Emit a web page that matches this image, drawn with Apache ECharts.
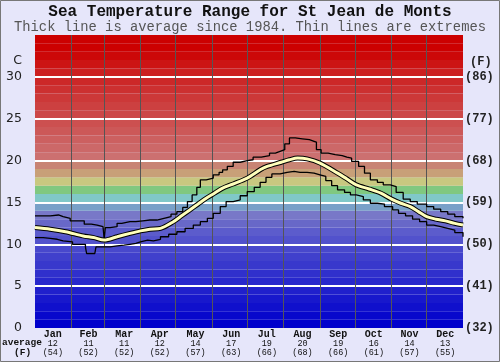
<!DOCTYPE html>
<html><head><meta charset="utf-8">
<script src="https://cdn.jsdelivr.net/npm/echarts@6/dist/echarts.min.js"></script>
<style>html,body{margin:0;padding:0;background:#e6e6fa;}#c{width:500px;height:362px;}</style>
</head><body><div id="c"></div>
<script>
// ---- data ----
const months = ['Jan','Feb','Mar','Apr','May','Jun','Jul','Aug','Sep','Oct','Nov','Dec'];
const monthAvgC = [12,11,11,12,14,17,19,20,19,16,14,13];
const monthAvgF = [54,52,52,52,57,63,66,68,66,61,57,55];
const monthStartDays = [31,59,90,120,151,181,212,243,273,304,334];
const cTicks = ['0','5','10','15','20','25','30'];
const fTicks = ['(32)','(41)','(50)','(59)','(68)','(77)','(86)'];
// [day of year, °C]
const maxLine = [[0,13.4],[8,13.4],[13,13.5],[20,13.3],[24,13.1],[30,12.8],[38,12.8],[42,12.4],[48,12.3],[53,12.1],[58,12.0],[59,10.6],[60,12.0],[64,12.1],[70,12.5],[74,12.7],[81,12.7],[86,12.8],[92,12.9],[98,12.9],[104,13.1],[110,13.3],[116,13.6],[121,13.9],[126,14.4],[130,15.1],[134,15.9],[138,16.8],[141,17.7],[146,17.9],[152,18.3],[157,18.6],[160,18.9],[164,19.3],[169,19.8],[175,20.0],[181,20.1],[186,20.4],[193,20.6],[200,20.9],[205,21.1],[209,21.3],[213,22.0],[217,22.7],[222,22.6],[228,22.5],[234,22.3],[238,22.2],[240,21.3],[244,20.9],[250,20.7],[256,20.6],[262,20.4],[266,20.3],[270,19.9],[276,19.3],[281,18.5],[286,17.7],[292,17.4],[297,17.1],[303,16.9],[308,16.2],[314,15.4],[320,15.1],[326,14.8],[334,14.5],[340,14.2],[346,13.9],[352,13.6],[358,13.3],[365,13.1]];
const minLine = [[0,10.8],[7,10.7],[13,10.6],[19,10.4],[24,10.3],[32,10.0],[38,10.0],[43,9.7],[44,8.9],[51,8.9],[52,9.7],[58,9.7],[64,9.8],[70,9.9],[76,10.0],[81,10.1],[86,10.3],[90,10.5],[96,10.4],[101,10.6],[107,10.9],[114,11.2],[121,11.5],[128,11.9],[135,12.3],[141,12.7],[147,13.1],[152,13.7],[158,14.5],[163,15.1],[169,15.3],[175,15.8],[181,16.3],[187,16.8],[192,17.4],[197,18.0],[202,18.4],[209,18.6],[215,18.7],[221,18.6],[226,18.6],[232,18.5],[238,18.3],[243,18.1],[248,17.6],[253,17.0],[258,16.5],[264,16.2],[269,15.9],[274,15.7],[280,15.3],[286,14.9],[292,14.8],[298,14.5],[305,14.1],[310,13.7],[316,13.4],[322,13.0],[328,12.7],[334,12.3],[340,12.1],[346,11.9],[352,11.7],[358,11.4],[365,10.9]];
const avgLine = [[0,12.0],[13,11.8],[26,11.5],[41,11.0],[50,10.8],[59,10.5],[70,10.9],[81,11.3],[90,11.6],[98,11.8],[107,11.9],[118,12.7],[125,13.4],[132,14.1],[139,14.8],[146,15.5],[153,16.1],[160,16.7],[169,17.2],[181,17.9],[192,18.9],[198,19.3],[210,19.8],[217,20.1],[224,20.3],[232,20.2],[243,19.7],[258,18.5],[266,17.8],[274,17.1],[285,16.6],[295,16.1],[304,15.4],[312,14.9],[320,14.5],[327,13.9],[334,13.3],[342,13.0],[350,12.8],[358,12.5],[365,12.3]];

// ---- styles ----
const bandColors = ['#0000cc','#0808cc','#1010cc','#1818cc','#2020cc','#2828cc','#3030cc','#3838cc','#4040cc','#4848cc',
  '#5252cc','#5c5ccc','#6868c8','#7878c8','#78a0c8','#80c8c8','#80c880','#c8c880','#c8a078','#c88474',
  '#cc7070','#cc6868','#cc6060','#cc5858','#cc5050','#cc4848','#cc4040','#cc3838','#cc3030','#cc2828',
  '#cc2020','#cc1414','#cc0808','#cc0000','#cc0000'];
const bands = bandColors.map((c,i)=>[{yAxis:i,itemStyle:{color:c,opacity:1}},{yAxis:i+1}]);
const mono = 'Liberation Mono';

const chart = echarts.init(document.getElementById('c'), null, {renderer:'canvas'});
chart.setOption({
  backgroundColor:'#e6e6fa',
  animation:false,
  grid:{left:35,right:37,top:35,bottom:34},
  xAxis:[
    {type:'value',min:0,max:365,show:false},
    {type:'category',data:months,position:'bottom',boundaryGap:true,
     axisLine:{show:false},axisTick:{show:false},splitLine:{show:false},
     axisLabel:{margin:2,interval:0,lineHeight:9,
       formatter:(v,i)=>'{m|'+v+'}\n{n|'+monthAvgC[i]+'}\n{n|('+monthAvgF[i]+')}',
       rich:{m:{fontFamily:mono,fontWeight:'bold',fontSize:10,color:'#111',lineHeight:9},
             n:{fontFamily:mono,fontSize:8.5,color:'#111',lineHeight:9.3}}}}
  ],
  yAxis:[
    {type:'value',min:0,max:35,interval:5,position:'left',
     axisLine:{show:false},axisTick:{show:false},splitLine:{show:false},
     axisLabel:{margin:13,showMaxLabel:false,color:'#222',fontFamily:'DejaVu Sans',fontSize:12.5,
       formatter:v=>cTicks[v/5]}},
    {type:'value',min:0,max:35,interval:5,position:'right',
     axisLine:{show:false},axisTick:{show:false},splitLine:{show:false},
     axisLabel:{margin:2,showMaxLabel:false,color:'#222',fontFamily:mono,fontWeight:'bold',fontSize:12,
       formatter:v=>fTicks[v/5]}}
  ],
  graphic:[
    {type:'text',left:'center',top:4,style:{text:'Sea Temperature Range for St Jean de Monts',font:'bold 16px "Liberation Mono"',fill:'#111'}},
    {type:'text',left:'center',top:20,style:{text:'Thick line is average since 1984. Thin lines are extremes',font:'13.8px "Liberation Mono"',fill:'#555'}},
    {type:'text',right:478,top:54,style:{text:'C',font:'12.5px "DejaVu Sans"',fill:'#222',align:'right'}},
    {type:'text',left:470,top:56,style:{text:'(F)',font:'bold 12px "Liberation Mono"',fill:'#222'}},
    {type:'text',left:2,top:338,style:{text:'average',font:'bold 9.5px "Liberation Mono"',fill:'#111'}},
    {type:'text',left:14,top:347.5,style:{text:'(F)',font:'bold 9.5px "Liberation Mono"',fill:'#111'}},
    {type:'rect',shape:{x:0.5,y:0.5,width:499,height:361},style:{fill:'none',stroke:'#777',lineWidth:1},z:100}
  ],
  series:[
    {type:'line',data:[],z:1,silent:true,markArea:{silent:true,data:bands}},
    {type:'line',data:[],z:2,silent:true,
     markLine:{silent:true,symbol:'none',label:{show:false},animation:false,
       data:[5,10,15,20,25,30].map(v=>({yAxis:v,lineStyle:{color:'#ffffff',width:2,type:'solid'}}))
         .concat(monthStartDays.map(d=>({xAxis:d,lineStyle:{color:'#555',width:1,type:'solid'}})))}},
    {type:'line',data:maxLine,step:'end',symbol:'none',z:5,lineStyle:{color:'#000',width:1.3}},
    {type:'line',data:minLine,step:'end',symbol:'none',z:5,lineStyle:{color:'#000',width:1.3}},
    {type:'line',data:avgLine,smooth:0.3,symbol:'none',z:6,lineStyle:{color:'#000',width:5}},
    {type:'line',data:avgLine,smooth:0.3,symbol:'none',z:7,lineStyle:{color:'#ffffbb',width:3}}
  ]
});
</script></body></html>
